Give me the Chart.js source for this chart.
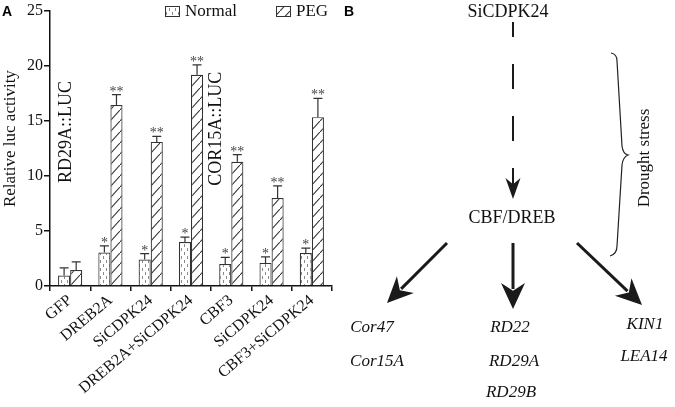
<!DOCTYPE html>
<html>
<head>
<meta charset="utf-8">
<script src="https://cdn.jsdelivr.net/npm/chart.js@4.4.1/dist/chart.umd.min.js"></script>
<style>
  html, body { margin: 0; padding: 0; background: #fff; }
  #wrap { position: relative; width: 675px; height: 407px; }
  #chartA { position: absolute; left: 0; top: 0; }
  #chartB { position: absolute; left: 340px; top: 0; }
  .warm { position: absolute; left: -9999px; top: 0; }
</style>
</head>
<body>
<div id="wrap">
  <canvas id="chartA" width="340" height="407"></canvas>
  <canvas id="chartB" width="335" height="407"></canvas>
</div>
<span class="warm" style="font-family:'Liberation Serif'">Aa</span>
<span class="warm" style="font-family:'Liberation Serif';font-style:italic">Aa</span>
<span class="warm" style="font-family:'Liberation Sans';font-weight:bold">Aa</span>
<script>
// --- Panel A data ---
const categories = ['GFP', 'DREB2A', 'SiCDPK24', 'DREB2A+SiCDPK24', 'CBF3', 'SiCDPK24', 'CBF3+SiCDPK24'];
const normalValues = [0.95, 3.05, 2.4, 4.0, 2.0, 2.1, 3.0];
const normalErrors = [0.7, 0.6, 0.55, 0.45, 0.6, 0.55, 0.45];
const pegValues = [1.45, 16.45, 13.1, 19.2, 11.3, 8.0, 15.35];
const pegErrors = [0.75, 0.95, 0.5, 0.9, 0.65, 1.1, 1.7];
const normalMarks = ['', '*', '*', '*', '*', '*', '*'];
const pegMarks = ['', '**', '**', '**', '**', '**', '**'];
const reporterLabels = ['RD29A::LUC', 'COR15A::LUC'];
const yTitle = 'Relative luc activity';
const yMax = 25;
const yStep = 5;

// --- Panel B data ---
const sourceGene = 'SiCDPK24';
const hubGene = 'CBF/DREB';
const targetGroups = [['Cor47', 'Cor15A'], ['RD22', 'RD29A', 'RD29B'], ['KIN1', 'LEA14']];
const stressLabel = 'Drought stress';

const serif = '"Liberation Serif", "Times New Roman", serif';
const sans = '"Liberation Sans", Arial, sans-serif';
Chart.defaults.font.family = serif;
Chart.defaults.color = '#111';

// --- Fill patterns for the bars ---
function makePattern(kind) {
    const c = document.createElement('canvas');
    const ctx = c.getContext('2d');
    if (kind === 'hatch') {
        c.width = 10; c.height = 11;
        ctx.fillStyle = '#fff';
        ctx.fillRect(0, 0, 10, 11);
        ctx.strokeStyle = '#333';
        ctx.lineWidth = 1.1;
        ctx.beginPath();
        ctx.moveTo(-1, 12.1); ctx.lineTo(11, -1.1);
        ctx.stroke();
    } else {
        c.width = 6; c.height = 8;
        ctx.fillStyle = '#fff';
        ctx.fillRect(0, 0, 6, 8);
        ctx.strokeStyle = '#8a8a8a';
        ctx.lineWidth = 1;
        ctx.beginPath();
        ctx.moveTo(1.5, 0); ctx.lineTo(1.5, 3);
        ctx.moveTo(4.5, 4); ctx.lineTo(4.5, 7);
        ctx.stroke();
    }
    return ctx.createPattern(c, 'repeat');
}

// --- Error bars and significance marks ---
const errorBarPlugin = {
    id: 'errorBars',
    afterDatasetsDraw(chart) {
        const ctx = chart.ctx;
        const y = chart.scales.y;
        ctx.save();
        chart.data.datasets.forEach((ds, di) => {
            const meta = chart.getDatasetMeta(di);
            meta.data.forEach((bar, i) => {
                const top = y.getPixelForValue(ds.data[i] + ds.errors[i]);
                ctx.strokeStyle = '#333';
                ctx.lineWidth = 1.2;
                ctx.beginPath();
                ctx.moveTo(bar.x, bar.y);
                ctx.lineTo(bar.x, top);
                ctx.moveTo(bar.x - 4.5, top);
                ctx.lineTo(bar.x + 4.5, top);
                ctx.stroke();
                if (ds.marks[i]) {
                    ctx.fillStyle = '#444';
                    ctx.font = '14px ' + serif;
                    ctx.textAlign = 'center';
                    ctx.textBaseline = 'alphabetic';
                    ctx.fillText(ds.marks[i], bar.x, top + 1);
                }
            });
        });
        ctx.restore();
    }
};

// --- Legend, panel letter, axis title and reporter labels ---
const annotationPlugin = {
    id: 'panelAnnotations',
    afterDraw(chart) {
        const ctx = chart.ctx;
        const x = chart.scales.x;
        const y = chart.scales.y;
        ctx.save();

        ctx.fillStyle = '#000';
        ctx.font = 'bold 14px ' + sans;
        ctx.textBaseline = 'middle';
        ctx.textAlign = 'left';
        ctx.fillText('A', 2, 12);

        // y axis title
        ctx.save();
        ctx.translate(11, y.getPixelForValue(13.4));
        ctx.rotate(-Math.PI / 2);
        ctx.fillStyle = '#111';
        ctx.font = '17px ' + serif;
        ctx.textAlign = 'center';
        ctx.textBaseline = 'middle';
        ctx.fillText(yTitle, 0, 0);
        ctx.restore();

        // legend
        const legendX = [165, 276];
        chart.data.datasets.forEach((ds, di) => {
            const lx = legendX[di];
            ctx.fillStyle = ds.backgroundColor;
            ctx.fillRect(lx, 6, 15, 11);
            ctx.strokeStyle = '#333';
            ctx.lineWidth = 1;
            ctx.strokeRect(lx + 0.5, 6.5, 14, 10);
            ctx.fillStyle = '#111';
            ctx.font = '17px ' + serif;
            ctx.textAlign = 'left';
            ctx.textBaseline = 'middle';
            ctx.fillText(ds.label, lx + 20, 12);
        });

        // reporter labels
        const step = x.getPixelForValue(1) - x.getPixelForValue(0);
        const spots = [x.getPixelForValue(0) - 4, x.getPixelForValue(4) - step * 0.37];
        const mids = [14, 14.3];
        ctx.font = '18px ' + serif;
        ctx.fillStyle = '#111';
        reporterLabels.forEach((txt, k) => {
            ctx.save();
            ctx.translate(spots[k], y.getPixelForValue(mids[k]));
            ctx.rotate(-Math.PI / 2);
            ctx.textAlign = 'center';
            ctx.textBaseline = 'middle';
            ctx.fillText(txt, 0, 0);
            ctx.restore();
        });
        ctx.restore();
    }
};

function drawPanelA() {
    const normalFill = makePattern('dots');
    const pegFill = makePattern('hatch');
    new Chart(document.getElementById('chartA'), {
        type: 'bar',
        data: {
            labels: categories,
            datasets: [
                {
                    label: 'Normal',
                    data: normalValues,
                    errors: normalErrors,
                    marks: normalMarks,
                    backgroundColor: normalFill,
                    borderColor: '#333',
                    borderWidth: 1.2,
                    categoryPercentage: 0.6,
                    barPercentage: 1.0
                },
                {
                    label: 'PEG',
                    data: pegValues,
                    errors: pegErrors,
                    marks: pegMarks,
                    backgroundColor: pegFill,
                    borderColor: '#333',
                    borderWidth: 1.2,
                    categoryPercentage: 0.6,
                    barPercentage: 1.0
                }
            ]
        },
        options: {
            responsive: false,
            animation: false,
            layout: { padding: { top: 11, right: 8, left: 0, bottom: 0 } },
            plugins: {
                legend: { display: false },
                tooltip: { enabled: false }
            },
            scales: {
                x: {
                    afterFit(scale) { scale.height = 121; },
                    grid: { offset: true, drawOnChartArea: false, tickLength: 5, color: '#111', lineWidth: 1.5 },
                    border: { color: '#111', width: 1.5 },
                    ticks: {
                        autoSkip: false,
                        minRotation: 40,
                        maxRotation: 40,
                        padding: 0,
                        color: '#111',
                        font: { size: 16, family: serif }
                    }
                },
                y: {
                    min: 0,
                    max: yMax,
                    afterFit(scale) { scale.width = 50; },
                    grid: { drawOnChartArea: false, tickLength: 6, color: '#111', lineWidth: 1.5 },
                    border: { color: '#111', width: 1.5 },
                    ticks: { stepSize: yStep, padding: 1, color: '#111', font: { size: 16, family: serif } }
                }
            }
        },
        plugins: [errorBarPlugin, annotationPlugin]
    });
}

// --- Panel B: pathway diagram drawn on hidden linear scales ---
const signalPath = [{ x: 173, y: 22 }, { x: 173, y: 186 }];
const signalTip = { x: 173, y: 199 };
const branchStarts = [{ x: 107, y: 243 }, { x: 173, y: 243 }, { x: 237, y: 243 }];
const branchTips = [{ x: 47, y: 303 }, { x: 173, y: 309 }, { x: 302, y: 305 }];
const bigHead = 26;

function shaftEnd(a, b, len) {
    const dx = b.x - a.x, dy = b.y - a.y;
    const d = Math.hypot(dx, dy);
    return { x: b.x - dx / d * (len - 6), y: b.y - dy / d * (len - 6) };
}

function drawHead(ctx, from, tip, len, half) {
    const dx = tip.x - from.x, dy = tip.y - from.y;
    const d = Math.hypot(dx, dy);
    const ux = dx / d, uy = dy / d;
    const bx = tip.x - ux * len, by = tip.y - uy * len;
    const nx = tip.x - ux * len * 0.7, ny = tip.y - uy * len * 0.7;
    ctx.beginPath();
    ctx.moveTo(tip.x, tip.y);
    ctx.lineTo(bx - uy * half, by + ux * half);
    ctx.lineTo(nx, ny);
    ctx.lineTo(bx + uy * half, by - ux * half);
    ctx.closePath();
    ctx.fill();
}

const diagramPlugin = {
    id: 'diagram',
    afterDatasetsDraw(chart) {
        const ctx = chart.ctx;
        const sx = chart.scales.x, sy = chart.scales.y;
        const P = (p) => ({ x: sx.getPixelForValue(p.x), y: sy.getPixelForValue(p.y) });
        ctx.save();
        ctx.fillStyle = '#1a1a1a';

        // arrow heads
        drawHead(ctx, P(signalPath[0]), P(signalTip), 21, 7.5);
        chart.data.datasets.forEach(ds => {
            if (ds.tip) drawHead(ctx, P(ds.data[0]), P(ds.tip), ds.headLen, ds.headHalf);
        });

        // texts
        ctx.fillStyle = '#111';
        ctx.textAlign = 'center';
        ctx.textBaseline = 'middle';
        ctx.font = '18px ' + serif;
        let p = P({ x: 168, y: 12 });
        ctx.fillText(sourceGene, p.x, p.y);
        p = P({ x: 172, y: 218 });
        ctx.fillText(hubGene, p.x, p.y);

        ctx.font = 'italic 17px ' + serif;
        const groupX = [[32, 37], [170, 174, 171], [305, 304]];
        const groupY = [[328, 362], [328, 362, 393], [325, 357]];
        targetGroups.forEach((g, gi) => {
            g.forEach((name, k) => {
                const q = P({ x: groupX[gi][k], y: groupY[gi][k] });
                ctx.fillText(name, q.x, q.y);
            });
        });

        ctx.fillStyle = '#000';
        ctx.font = 'bold 14px ' + sans;
        ctx.textAlign = 'left';
        ctx.fillText('B', 4, 12);

        // brace
        ctx.strokeStyle = '#222';
        ctx.lineWidth = 1.2;
        ctx.beginPath();
        ctx.moveTo(271, 53);
        ctx.quadraticCurveTo(277, 54, 277, 61);
        ctx.lineTo(282, 146);
        ctx.quadraticCurveTo(283, 154, 288, 155);
        ctx.quadraticCurveTo(283, 157, 282, 165);
        ctx.lineTo(277, 246);
        ctx.quadraticCurveTo(277, 254, 270, 256);
        ctx.stroke();

        ctx.save();
        ctx.translate(305, 158);
        ctx.rotate(-Math.PI / 2);
        ctx.fillStyle = '#111';
        ctx.font = '17px ' + serif;
        ctx.textAlign = 'center';
        ctx.textBaseline = 'middle';
        ctx.fillText(stressLabel, 0, 0);
        ctx.restore();

        ctx.restore();
    }
};

function drawPanelB() {
    const branchSets = branchStarts.map((s, i) => ({
        data: [s, shaftEnd(s, branchTips[i], bigHead)],
        tip: branchTips[i],
        headLen: bigHead,
        headHalf: 12,
        showLine: true,
        borderColor: '#1a1a1a',
        borderWidth: 3,
        pointRadius: 0
    }));
    new Chart(document.getElementById('chartB'), {
        type: 'scatter',
        data: {
            datasets: [
                {
                    data: signalPath,
                    showLine: true,
                    borderColor: '#1a1a1a',
                    borderWidth: 2,
                    borderDash: [25, 27],
                    borderDashOffset: 10,
                    pointRadius: 0
                },
                ...branchSets
            ]
        },
        options: {
            responsive: false,
            animation: false,
            layout: { padding: 0 },
            plugins: { legend: { display: false }, tooltip: { enabled: false } },
            scales: {
                x: { type: 'linear', min: 0, max: 335, display: false },
                y: { type: 'linear', min: 0, max: 407, reverse: true, display: false }
            }
        },
        plugins: [diagramPlugin]
    });
}

Promise.all([
    document.fonts.load('17px "Liberation Serif"'),
    document.fonts.load('italic 17px "Liberation Serif"'),
    document.fonts.load('bold 14px "Liberation Sans"')
]).catch(() => {}).then(() => {
    drawPanelA();
    drawPanelB();
});
</script>
</body>
</html>
